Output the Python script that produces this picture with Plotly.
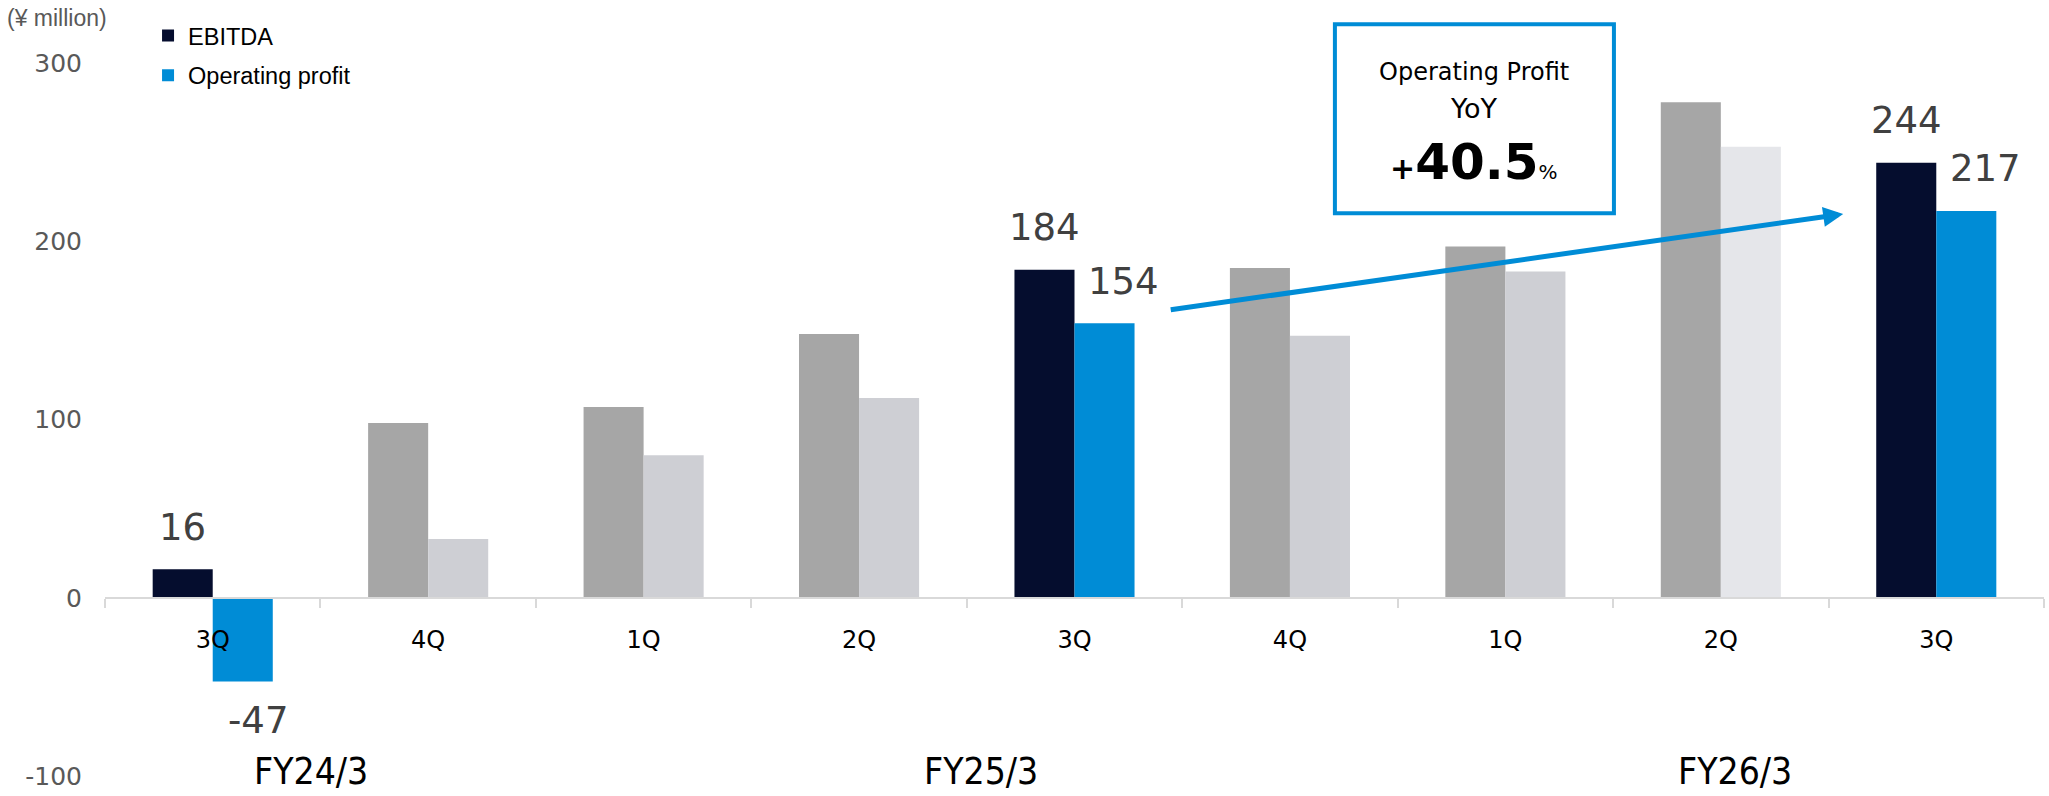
import plotly.graph_objects as go

# Quarterly results, ¥ million
fiscal_years = ["FY24/3", "FY24/3", "FY25/3", "FY25/3", "FY25/3", "FY25/3", "FY26/3", "FY26/3", "FY26/3"]
quarters = ["3Q", "4Q", "1Q", "2Q", "3Q", "4Q", "1Q", "2Q", "3Q"]
ebitda = [16, 98, 107, 148, 184, 185, 197, 278, 244]
operating_profit = [-47, 33, 80, 112, 154, 147, 183, 253, 217]
highlighted = [0, 4, 8]          # same quarter, compared year on year
y_ticks = [-100, 0, 100, 200, 300]
y_tick_text = ["-100", "0", "100", "200", "300"]
yoy_growth = "40.5"

NAVY = "#050d2e"
BLUE = "#008cd6"
GREY_DARK = "#a6a6a6"
GREY_LIGHT = "#cecfd4"
GREY_PALE = "#e5e6ea"

cats = [f"{fy} {q}" for fy, q in zip(fiscal_years, quarters)]
n = len(cats)

ebitda_colors = [NAVY if i in highlighted else GREY_DARK for i in range(n)]
op_colors = [BLUE if i in highlighted else GREY_LIGHT for i in range(n)]
op_colors[7] = GREY_PALE

BARGAP = 0.4426
half = (1 - BARGAP) / 4  # offset of each bar centre from the category centre

fig = go.Figure()
fig.add_trace(go.Bar(x=cats, y=ebitda, name="EBITDA", marker=dict(color=ebitda_colors, line=dict(width=0)),
                     legendgroup="a"))
fig.add_trace(go.Bar(x=cats, y=operating_profit, name="Operating profit",
                     marker=dict(color=op_colors, line=dict(width=0)), legendgroup="b"))

label_font = dict(family="DejaVu Sans", size=37, color="#404040")
annotations = []
for i in highlighted:
    annotations.append(dict(x=i - half, y=ebitda[i], xref="x", yref="y", text=str(ebitda[i]),
                            showarrow=False, yshift=42, font=label_font))
    v = operating_profit[i]
    if v >= 0:
        annotations.append(dict(x=i + half, y=v, xref="x", yref="y", text=str(v),
                                showarrow=False, xshift=19, yshift=42, font=label_font))
    else:
        annotations.append(dict(x=i + half, y=v, xref="x", yref="y", text=str(v),
                                showarrow=False, xshift=15, yshift=-39, font=label_font))

# fiscal-year group labels under the quarters
groups = {}
for i, fy in enumerate(fiscal_years):
    groups.setdefault(fy, []).append(i)
fy_shift = {"FY24/3": -9, "FY25/3": 14, "FY26/3": 14}
for fy, idx in groups.items():
    annotations.append(dict(x=sum(idx) / len(idx), y=-100, xref="x", yref="y", text=fy,
                            showarrow=False, yshift=5, xshift=fy_shift[fy],
                            xanchor="center", yanchor="middle",
                            font=dict(family="DejaVu Sans Condensed, DejaVu Sans", size=37, color="#000000")))

# unit label
annotations.append(dict(x=-0.0516, y=1.063, xref="paper", yref="paper", text="(¥ million)",
                        showarrow=False, xanchor="left", yanchor="middle",
                        font=dict(family="Liberation Sans", size=23, color="#595959")))

# YoY callout
BOX_X = 0.706
box_font = dict(family="DejaVu Sans", size=24, color="#000000")
annotations.append(dict(x=BOX_X, y=(780 - 72) / 717, xref="paper", yref="paper", text="Operating Profit",
                        showarrow=False, xanchor="center", yanchor="middle", font=box_font))
annotations.append(dict(x=BOX_X, y=(780 - 109) / 717, xref="paper", yref="paper", text="YoY",
                        showarrow=False, xanchor="center", yanchor="middle",
                        font=dict(family="DejaVu Sans", size=27, color="#000000")))
annotations.append(dict(x=BOX_X, y=(780 - 163) / 717, xref="paper", yref="paper",
                        text=f"<b><span style='font-size:30px'>+</span>{yoy_growth}</b>"
                             "<span style='font-size:20px'>%</span>",
                        showarrow=False, xanchor="center", yanchor="middle",
                        font=dict(family="DejaVu Sans", size=50, color="#000000")))

# trend arrow
annotations.append(dict(x=7.568, y=215.3, xref="x", yref="y", ax=-674, ay=96, text="",
                        showarrow=True, arrowhead=2, arrowsize=0.8, arrowwidth=5, arrowcolor=BLUE,
                        standoff=0, startstandoff=0))

shapes = [dict(type="rect", xref="paper", yref="paper", x0=0.6343, x1=0.7782, y0=0.7894, y1=1.0544,
               line=dict(color=BLUE, width=4), fillcolor="rgba(0,0,0,0)")]

fig.update_layout(
    width=2049, height=796,
    margin=dict(l=105, r=5, t=63, b=16),
    paper_bgcolor="white", plot_bgcolor="white",
    barmode="group", bargap=BARGAP, bargroupgap=0,
    showlegend=True,
    legend=dict(x=0.0222, y=1.069, xanchor="left", yanchor="top", traceorder="grouped",
                tracegroupgap=6, bgcolor="rgba(0,0,0,0)",
                font=dict(family="Liberation Sans", size=23.5, color="#000000")),
    annotations=annotations,
    shapes=shapes,
)
fig.update_xaxes(
    type="category", categoryorder="array", categoryarray=cats,
    tickmode="array", tickvals=cats, ticktext=quarters,
    anchor="free", position=0.25,
    showline=True, linecolor="#d9d9d9", linewidth=2,
    ticks="outside", tickson="boundaries", ticklen=9, tickcolor="#d9d9d9", tickwidth=2,
    ticklabelstandoff=20,
    tickfont=dict(family="DejaVu Sans", size=24, color="#000000"),
    showgrid=False, zeroline=False,
)
fig.update_yaxes(
    range=[-100, 300], tickmode="array", tickvals=y_ticks, ticktext=y_tick_text,
    showgrid=False, zeroline=False, showline=False, ticks="",
    ticklabelstandoff=22,
    tickfont=dict(family="DejaVu Sans", size=25, color="#595959"),
)

fig.write_html("out.html")
